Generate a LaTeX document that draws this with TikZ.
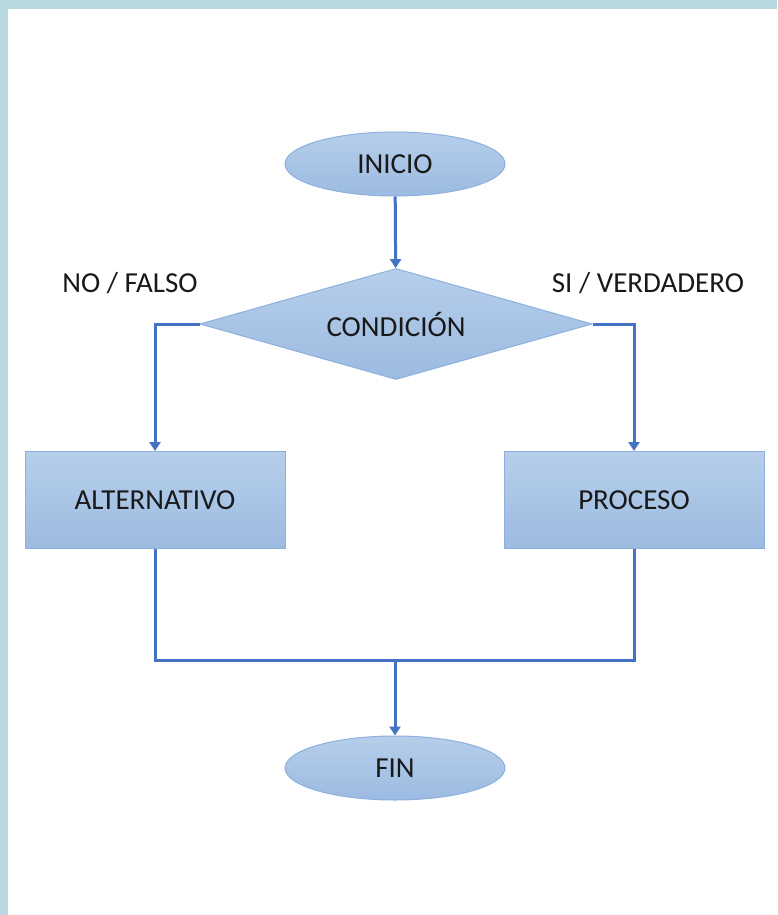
\documentclass[tikz,border=0pt]{standalone}
\usepackage{fontspec}
\setmainfont{Carlito}
\usetikzlibrary{shapes.geometric,arrows.meta}
\definecolor{marco}{HTML}{B8D9E0}
\definecolor{linea}{HTML}{4472C4}
\definecolor{borde}{HTML}{8DB0DE}
\definecolor{claro}{HTML}{B6CEEA}
\definecolor{oscuro}{HTML}{9CBBE1}
\begin{document}
\begin{tikzpicture}[x=1pt,y=-1pt,
	forma/.style={draw=borde,line width=1pt,top color=claro,bottom color=oscuro,
		inner sep=0pt,font=\fontsize{29}{34}\selectfont,text=black!90},
	terminal/.style={forma,ellipse,minimum width=220pt,minimum height=64pt},
	decision/.style={forma,diamond,aspect=3.53,minimum width=392pt,minimum height=111pt},
	proceso/.style={forma,rectangle,minimum width=260pt,minimum height=97pt},
	etiqueta/.style={font=\fontsize{29}{34}\selectfont,text=black!90},
	conector/.style={linea,line width=3pt},
	flecha/.style={conector,-{Triangle[width=11pt,length=9pt]}}]
	% marco
	\fill[marco] (0,0) rectangle (777,915);
	\fill[white] (8,9) rectangle (777,915);
	
	\node[terminal] (inicio) at (395,164) {INICIO};
	\node[decision] (cond) at (396,324) {CONDICIÓN};
	\node[proceso] (alt) at (155,500) {ALTERNATIVO};
	\node[proceso] (proc) at (634,500) {PROCESO};
	\node[terminal] (fin) at (395,768) {FIN};
		\node[etiqueta] (no) at (130,283) {NO / FALSO};
		\node[etiqueta] (si) at (648,283) {SI / VERDADERO};
	
%	
	\coordinate (union) at (395,660);
	\draw[flecha] (inicio) -- (cond);
	\draw[flecha] (cond.west) -| (alt.north);
	\draw[flecha] (cond.east) -| (proc.north);
	\draw[conector] (alt.south) -- (alt.south |- union) -- (proc.south |- union) -- (proc.south);
	\draw[flecha] (union) -- (fin);
\end{tikzpicture}
\end{document}
